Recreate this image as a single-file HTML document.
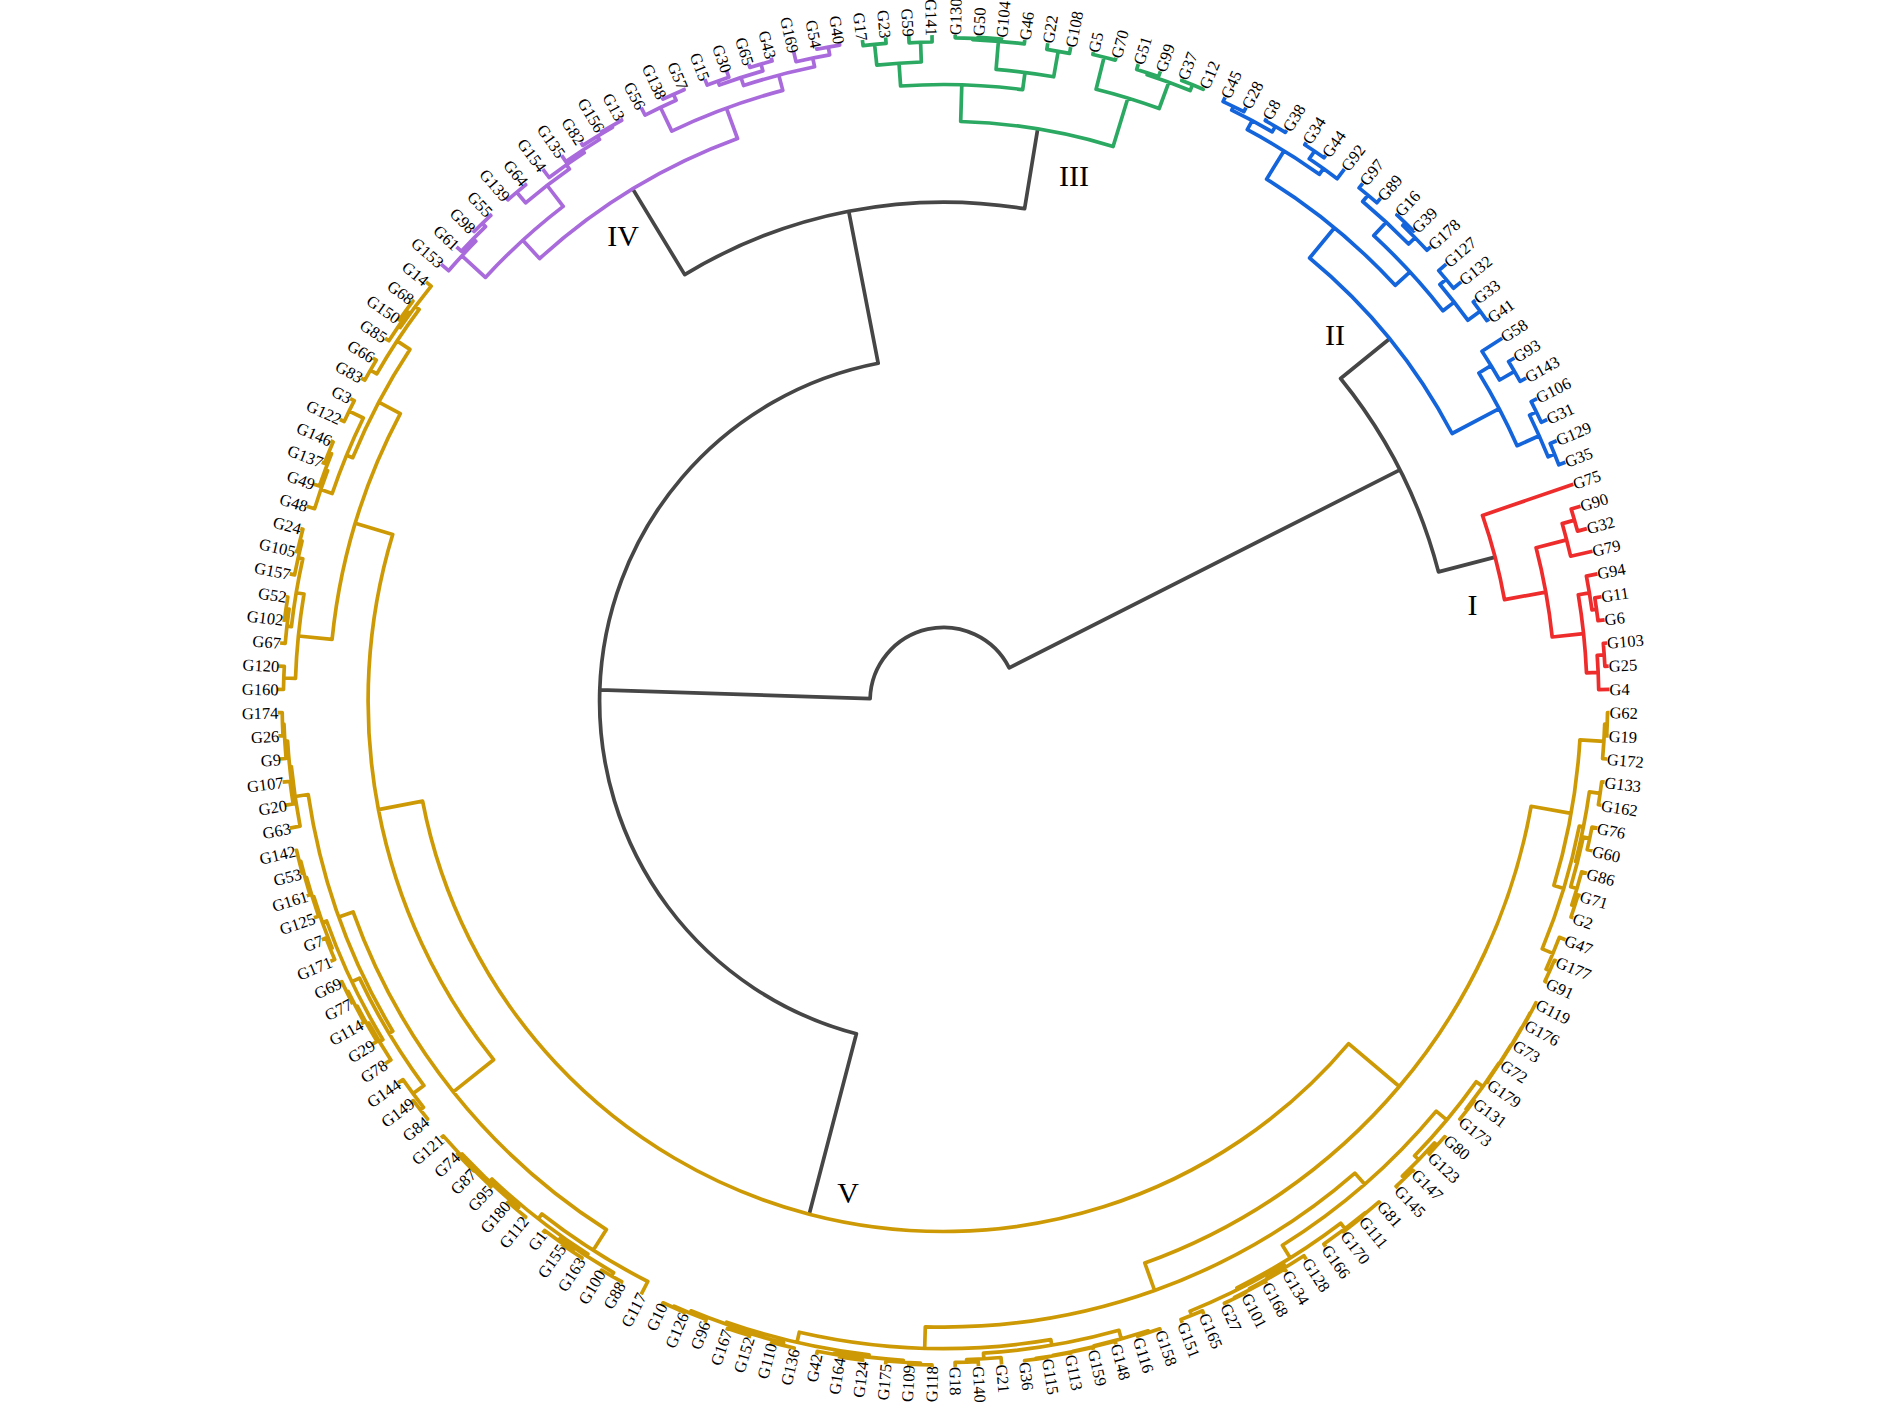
<!DOCTYPE html>
<html><head><meta charset="utf-8"><title>Circular dendrogram</title>
<style>html,body{margin:0;padding:0;background:#fff}body{width:1890px;height:1424px;overflow:hidden}svg{display:block}</style></head>
<body>
<svg width="1890" height="1424" viewBox="0 0 1890 1424">
<rect width="1890" height="1424" fill="#fff"/>
<path fill="none" stroke="#464646" stroke-width="3.7" stroke-linejoin="round" d="M1399.9 469.9L1009.2 667.8A73.5 73.5 0 0 0 870.1 698.6L599.8 689.8M1495.1 557.1L1438.5 571.9A511.5 511.5 0 0 0 1340.6 378.5L1389.6 338.7M848.7 211.2L878.2 363.3A344.0 344.0 0 0 0 856.4 1033.8L809.2 1214.2M1037.7 128.9L1024.6 208.7A498.9 498.9 0 0 0 684.7 274.6L632.7 188.9"/>
<path fill="none" stroke="#CD9A05" stroke-width="3.7" stroke-linejoin="round" d="M378.4 809.6L422.6 801.1A530.5 530.5 0 0 0 1348.6 1043.6L1399.3 1086.5M355.3 523.2L392.7 534.5A575.5 575.5 0 0 0 493.6 1059.7L453.3 1091.9M378.7 402.2L400.3 413.6A614.6 614.6 0 0 0 332.1 639.4L298.4 636.0M397.0 340.9L409.9 349.4A639.0 639.0 0 0 0 352.7 457.7L346.6 455.2M415.3 306.5L419.2 309.4A654.5 654.5 0 0 0 376.8 373.8L370.5 370.1M426.0 281.9L431.2 286.1A659.4 659.4 0 0 0 400.2 327.5L398.5 326.4M406.0 310.4L408.5 312.2A661.5 661.5 0 0 0 388.9 340.7L385.0 338.3M411.7 300.2L412.9 301.1A664.5 664.5 0 0 0 399.3 319.9L398.0 319.0M372.7 358.0L376.3 360.1A661.8 661.8 0 0 0 364.8 380.2L361.1 378.1M349.1 411.1L363.3 418.0A645.6 645.6 0 0 0 332.2 493.5L320.8 489.6M350.2 398.6L354.3 400.7A661.4 661.4 0 0 0 344.2 421.5L340.0 419.5M325.2 469.8L327.6 470.7A657.7 657.7 0 0 0 314.6 508.7L306.7 506.3M328.7 452.6L331.5 453.7A660.2 660.2 0 0 0 319.4 486.1L313.9 484.2M330.5 440.8L333.1 441.9A663.2 663.2 0 0 0 324.4 463.3L321.8 462.3M296.2 592.7L304.0 594.0A648.5 648.5 0 0 0 295.5 678.4L283.8 678.0M298.2 557.9L302.8 558.9A656.4 656.4 0 0 0 291.4 626.7L286.9 626.2M300.0 540.5L302.1 541.1A661.1 661.1 0 0 0 294.6 574.9L289.8 573.9M300.3 528.6L302.9 529.3A663.3 663.3 0 0 0 297.3 551.8L294.7 551.2M286.1 608.6L289.1 609.0A660.9 660.9 0 0 0 285.2 643.4L280.1 643.0M285.8 596.8L287.8 597.1A664.0 664.0 0 0 0 284.5 620.1L282.6 619.8M278.5 666.1L284.3 666.4A660.2 660.2 0 0 0 283.5 689.5L277.7 689.4M338.8 917.0L353.1 911.9A627.0 627.0 0 0 0 606.4 1229.6L593.2 1250.3M295.1 796.5L308.2 794.5A642.2 642.2 0 0 0 392.8 1031.2L389.1 1033.4M289.7 766.8L291.4 766.7A655.5 655.5 0 0 0 300.1 826.1L289.8 828.1M284.8 741.3L287.6 741.1A657.2 657.2 0 0 0 292.8 792.5L291.5 792.6M282.5 724.1L284.0 724.0A660.0 660.0 0 0 0 286.1 758.5L280.1 759.0M277.7 712.6L282.2 712.5A661.5 661.5 0 0 0 283.0 735.6L278.5 735.9M282.6 782.2L290.0 781.3A658.5 658.5 0 0 0 293.2 804.0L285.8 805.2M351.8 981.7L359.5 978.1A646.5 646.5 0 0 0 423.9 1085.6L413.1 1093.6M322.4 922.5L326.6 921.0A655.0 655.0 0 0 0 382.9 1039.6L379.5 1041.6M312.3 897.0L313.8 896.6A659.5 659.5 0 0 0 332.1 948.1L330.3 948.8M305.2 878.0L306.6 877.6A661.0 661.0 0 0 0 318.6 916.2L313.9 917.8M299.3 861.6L300.8 861.3A662.5 662.5 0 0 0 310.0 894.7L306.7 895.7M294.7 850.8L296.6 850.4A664.0 664.0 0 0 0 302.2 872.9L300.3 873.4M321.8 939.7L326.0 938.1A661.5 661.5 0 0 0 334.7 959.5L330.5 961.2M366.9 1024.0L368.6 1023.0A659.0 659.0 0 0 0 390.9 1059.9L385.0 1063.7M356.0 1006.9L357.3 1006.2A661.0 661.0 0 0 0 377.0 1041.4L372.7 1044.0M346.8 992.1L348.1 991.4A662.5 662.5 0 0 0 364.2 1022.2L361.1 1023.9M340.0 982.5L341.8 981.6A664.0 664.0 0 0 0 352.0 1002.4L350.2 1003.4M398.0 1083.0L403.0 1079.6A660.0 660.0 0 0 0 423.5 1107.3L420.4 1109.8M411.7 1101.8L413.3 1100.6A664.0 664.0 0 0 0 427.6 1118.9L426.0 1120.1M538.2 1218.8L541.9 1214.0A651.5 651.5 0 0 0 647.8 1281.5L641.2 1294.4M489.6 1181.5L492.0 1179.0A657.6 657.6 0 0 0 587.9 1254.1L586.6 1256.1M460.8 1155.2L462.1 1153.9A661.0 661.0 0 0 0 518.7 1207.4L516.8 1209.7M441.0 1137.9L443.3 1135.9A662.9 662.9 0 0 0 479.0 1173.8L478.4 1174.4M465.6 1162.6L466.2 1162.0A663.7 663.7 0 0 0 491.0 1186.4L489.4 1188.1M456.5 1155.2L457.6 1154.2A664.5 664.5 0 0 0 473.7 1170.9L472.7 1171.9M506.7 1203.6L508.0 1202.1A664.0 664.0 0 0 0 525.7 1217.0L524.5 1218.6M558.6 1240.8L560.3 1238.3A660.0 660.0 0 0 0 613.6 1272.6L611.6 1276.0M542.8 1232.9L544.6 1230.5A663.0 663.0 0 0 0 572.9 1250.7L572.3 1251.5M561.6 1246.6L562.7 1244.9A664.0 664.0 0 0 0 582.0 1257.9L580.9 1259.6M600.6 1271.9L601.6 1270.2A664.0 664.0 0 0 0 621.7 1281.7L620.7 1283.5M1154.6 1290.5L1144.8 1263.0A596.9 596.9 0 0 0 1531.1 806.3L1571.1 813.4M924.7 1348.2L925.3 1326.8A626.1 626.1 0 0 0 1354.9 1173.1L1364.7 1184.3M797.0 1342.5L799.3 1332.2A647.5 647.5 0 0 0 1050.8 1339.6L1051.8 1345.3M726.0 1324.1L726.7 1322.2A658.0 658.0 0 0 0 869.1 1354.8L868.8 1357.3M690.1 1313.1L691.0 1310.8A660.0 660.0 0 0 0 761.7 1335.4L761.3 1336.9M673.5 1307.6L674.1 1306.2A662.5 662.5 0 0 0 706.2 1319.5L704.9 1322.8M662.1 1304.6L663.0 1302.8A664.0 664.0 0 0 0 684.2 1312.2L683.4 1314.1M738.6 1332.0L739.2 1330.1A661.5 661.5 0 0 0 783.6 1342.9L783.0 1345.3M726.8 1330.7L727.6 1328.4A663.5 663.5 0 0 0 749.6 1335.5L748.9 1337.9M771.2 1344.3L771.7 1342.4A664.0 664.0 0 0 0 794.2 1348.0L793.8 1349.9M834.3 1354.4L834.6 1352.4A660.5 660.5 0 0 0 903.3 1360.3L903.2 1362.3M816.5 1354.8L817.2 1351.3A662.5 662.5 0 0 0 851.4 1357.1L851.2 1358.5M839.4 1358.8L839.7 1356.8A664.0 664.0 0 0 0 862.7 1360.1L862.4 1362.0M885.6 1364.5L885.9 1361.0A662.5 662.5 0 0 0 920.5 1363.1L920.4 1364.6M908.7 1366.1L908.8 1364.1A664.0 664.0 0 0 0 932.0 1364.9L932.0 1366.9M983.8 1358.8L983.5 1353.1A653.3 653.3 0 0 0 1118.9 1330.3L1121.3 1338.9M966.7 1362.1L966.6 1359.6A659.0 659.0 0 0 0 1001.0 1357.5L1001.6 1364.5M955.2 1366.9L955.1 1362.4A661.5 661.5 0 0 0 978.2 1361.6L978.5 1366.1M1094.1 1346.6L1094.0 1345.9A662.2 662.2 0 0 0 1148.2 1330.8L1148.8 1332.5M1073.0 1351.7L1072.9 1351.2A662.9 662.9 0 0 0 1115.2 1341.3L1116.0 1344.3M1053.2 1355.8L1053.1 1355.3A663.4 663.4 0 0 0 1092.8 1347.4L1093.4 1349.9M1036.1 1359.0L1036.0 1358.4A663.9 663.9 0 0 0 1070.3 1352.7L1070.7 1354.8M1024.8 1362.0L1024.6 1360.5A664.5 664.5 0 0 0 1047.6 1357.3L1047.8 1358.8M1138.3 1337.9L1137.7 1336.0A664.0 664.0 0 0 0 1159.8 1328.8L1160.4 1330.7M1290.3 1257.9L1282.4 1245.2A641.0 641.0 0 0 0 1436.2 1111.1L1446.7 1119.9M1237.8 1289.5L1236.9 1287.8A656.0 656.0 0 0 0 1340.7 1223.2L1344.9 1228.7M1191.8 1315.3L1190.1 1311.1A658.0 658.0 0 0 0 1283.7 1264.3L1285.5 1267.3M1182.3 1322.8L1181.0 1319.5A662.5 662.5 0 0 0 1202.5 1310.8L1203.8 1314.1M1267.3 1279.0L1266.8 1278.2A661.5 661.5 0 0 0 1303.9 1255.8L1306.3 1259.6M1250.0 1289.5L1249.5 1288.6A662.5 662.5 0 0 0 1284.8 1268.9L1286.6 1271.9M1234.9 1298.2L1234.5 1297.3A663.5 663.5 0 0 0 1265.3 1281.3L1266.5 1283.5M1225.1 1304.6L1224.4 1303.2A664.5 664.5 0 0 0 1245.3 1293.1L1246.0 1294.4M1325.6 1246.6L1323.9 1244.1A663.0 663.0 0 0 0 1365.3 1212.6L1365.8 1213.1M1352.7 1224.6L1352.2 1224.0A663.7 663.7 0 0 0 1379.0 1201.9L1380.5 1203.6M1344.4 1232.9L1343.5 1231.7A664.5 664.5 0 0 0 1361.8 1217.4L1362.7 1218.6M1418.7 1159.8L1414.6 1155.8A654.7 654.7 0 0 0 1476.2 1081.8L1482.9 1086.6M1404.5 1178.3L1402.4 1176.1A660.5 660.5 0 0 0 1434.4 1143.0L1437.0 1145.3M1397.8 1188.1L1396.1 1186.3A663.5 663.5 0 0 0 1412.8 1170.2L1414.5 1171.9M1430.7 1155.2L1429.2 1153.8A664.0 664.0 0 0 0 1444.7 1136.6L1446.2 1137.9M1467.1 1110.0L1466.1 1109.2A663.0 663.0 0 0 0 1498.8 1063.3L1499.3 1063.6M1461.2 1120.1L1459.9 1119.1A664.3 664.3 0 0 0 1474.1 1100.8L1475.5 1101.8M1489.2 1083.0L1487.1 1081.6A663.5 663.5 0 0 0 1510.8 1045.2L1511.2 1045.4M1502.2 1063.7L1500.4 1062.6A663.9 663.9 0 0 0 1521.4 1027.9L1521.8 1028.1M1514.5 1044.0L1513.0 1043.1A664.3 664.3 0 0 0 1530.1 1012.9L1530.5 1013.1M1526.1 1023.9L1525.0 1023.3A664.7 664.7 0 0 0 1535.9 1002.8L1537.0 1003.4M1563.8 888.4L1553.9 885.4A637.5 637.5 0 0 0 1579.9 739.9L1603.9 741.4M1552.9 953.4L1542.2 948.9A647.9 647.9 0 0 0 1579.3 826.0L1583.4 826.8M1549.7 970.9L1546.1 969.2A659.5 659.5 0 0 0 1559.3 937.3L1565.4 939.7M1547.2 982.5L1544.9 981.4A663.5 663.5 0 0 0 1554.4 960.3L1556.7 961.2M1577.5 862.0L1575.6 861.5A652.1 652.1 0 0 0 1589.4 791.8L1600.1 793.3M1576.9 888.6L1570.7 886.7A654.0 654.0 0 0 0 1583.3 837.0L1589.7 838.3M1574.6 906.0L1571.8 905.1A660.5 660.5 0 0 0 1581.6 871.9L1586.9 873.4M1573.3 917.8L1571.0 917.0A663.5 663.5 0 0 0 1578.1 895.0L1580.5 895.7M1592.5 850.8L1587.2 849.6A660.5 660.5 0 0 0 1592.0 827.0L1597.4 828.1M1601.4 805.2L1598.4 804.7A663.0 663.0 0 0 0 1601.7 781.8L1604.6 782.2M1607.1 759.0L1602.6 758.7A661.5 661.5 0 0 0 1604.7 724.1L1607.2 724.2M1608.7 735.9L1606.7 735.8A664.0 664.0 0 0 0 1607.5 712.6L1609.5 712.6"/>
<path fill="none" stroke="#A96BDB" stroke-width="3.7" stroke-linejoin="round" d="M726.4 108.2L737.5 138.5A599.1 599.1 0 0 0 539.6 258.6L522.8 240.2M778.8 75.1L782.8 90.4A631.4 631.4 0 0 0 671.8 131.1L660.5 107.5M812.8 58.1L814.6 66.8A647.2 647.2 0 0 0 743.6 85.5L741.0 77.6M828.3 47.1L829.7 54.9A656.1 656.1 0 0 0 796.0 61.7L793.8 52.1M839.4 43.2L839.7 45.2A664.0 664.0 0 0 0 816.9 49.2L816.5 47.2M761.0 64.1L762.9 70.9A655.5 655.5 0 0 0 719.4 85.0L718.0 81.1M771.2 57.7L772.1 61.0A662.6 662.6 0 0 0 749.9 67.4L748.9 64.1M726.8 71.3L728.8 77.2A659.7 659.7 0 0 0 707.2 85.1L704.9 79.2M673.5 94.4L676.1 100.3A657.6 657.6 0 0 0 645.1 115.1L641.2 107.6M683.4 87.9L684.1 89.7A664.0 664.0 0 0 0 663.0 99.2L662.1 97.4M547.2 185.5L563.2 206.4A624.0 624.0 0 0 0 485.4 277.4L462.0 255.8M566.5 164.9L569.4 169.1A650.3 650.3 0 0 0 525.6 202.8L516.7 192.3M582.5 150.3L584.2 152.8A655.5 655.5 0 0 0 549.1 177.5L542.8 169.1M597.4 136.1L599.5 139.5A658.5 658.5 0 0 0 565.9 161.6L561.6 155.4M611.6 126.0L612.4 127.3A662.5 662.5 0 0 0 582.8 145.4L580.9 142.4M620.7 118.5L621.7 120.3A664.0 664.0 0 0 0 601.6 131.8L600.6 130.1M524.5 183.4L525.7 184.9A664.1 664.1 0 0 0 507.9 199.8L506.7 198.4M473.2 238.8L475.8 241.3A655.9 655.9 0 0 0 448.6 270.7L441.0 264.1M482.3 223.4L485.5 226.6A659.5 659.5 0 0 0 461.3 251.2L456.5 246.8M489.4 213.9L490.8 215.4A664.0 664.0 0 0 0 474.1 231.5L472.7 230.1"/>
<path fill="none" stroke="#2BA962" stroke-width="3.7" stroke-linejoin="round" d="M1127.9 98.0L1113.1 146.5A579.8 579.8 0 0 0 960.7 121.5L961.8 84.8M1168.8 82.3L1159.2 108.5A630.5 630.5 0 0 0 1096.1 89.2L1104.1 57.2M1192.5 84.9L1190.2 90.5A658.4 658.4 0 0 0 1147.1 74.8L1147.7 72.8M1203.8 87.9L1203.2 89.3A664.5 664.5 0 0 0 1181.7 80.6L1182.3 79.2M1160.4 71.3L1158.6 76.5A660.5 660.5 0 0 0 1136.7 69.4L1138.3 64.1M1116.0 57.7L1115.3 60.1A663.5 663.5 0 0 0 1092.9 54.5L1093.4 52.1M1025.0 72.4L1022.7 89.6A616.5 616.5 0 0 0 900.6 86.0L899.0 63.2M1058.2 51.3L1053.7 76.8A633.9 633.9 0 0 0 996.1 69.3L998.4 41.3M1070.7 47.2L1069.5 53.4A659.8 659.8 0 0 0 1046.8 49.4L1047.8 43.2M1024.8 40.0L1024.3 43.9A662.0 662.0 0 0 0 972.5 39.6L972.5 38.3M990.0 38.1L989.9 39.3A663.3 663.3 0 0 0 955.2 37.8L955.2 35.1M1001.6 37.5L1001.5 39.0A664.5 664.5 0 0 0 978.4 37.4L978.5 35.9M920.6 42.3L921.3 62.0A639.4 639.4 0 0 0 876.8 65.1L874.6 44.4M932.0 35.1L932.1 42.0A659.1 659.1 0 0 0 909.1 42.8L908.7 35.9M885.6 37.5L886.1 43.3A660.2 660.2 0 0 0 863.1 45.7L862.4 40.0"/>
<path fill="none" stroke="#1464DB" stroke-width="3.7" stroke-linejoin="round" d="M1499.2 408.7L1452.1 433.5A574.6 574.6 0 0 0 1309.6 258.0L1334.5 227.8M1539.2 435.8L1517.1 445.7A627.8 627.8 0 0 0 1478.9 373.0L1491.0 365.6M1554.6 454.1L1548.1 456.8A652.0 652.0 0 0 0 1529.6 415.2L1536.4 411.9M1565.4 462.3L1558.8 464.8A659.0 659.0 0 0 0 1550.2 443.5L1556.7 440.8M1547.2 419.5L1541.3 422.3A659.5 659.5 0 0 0 1531.2 401.6L1537.0 398.6M1514.5 371.4L1499.6 380.0A642.0 642.0 0 0 0 1482.0 351.3L1502.2 338.3M1526.1 378.1L1520.1 381.4A659.2 659.2 0 0 0 1508.6 361.5L1514.5 358.0M1410.0 271.8L1395.2 285.3A613.8 613.8 0 0 0 1266.6 179.1L1284.1 150.8M1454.2 302.1L1443.0 310.8A633.8 633.8 0 0 0 1373.8 235.6L1386.2 222.2M1480.1 311.2L1467.8 320.2A647.9 647.9 0 0 0 1439.9 284.5L1446.1 279.3M1489.2 319.0L1486.9 320.6A663.2 663.2 0 0 0 1473.3 301.9L1475.5 300.2M1461.2 281.9L1453.4 288.2A656.0 656.0 0 0 0 1438.7 270.6L1446.2 264.1M1415.1 237.7L1408.6 244.0A652.0 652.0 0 0 0 1362.7 201.5L1368.0 195.2M1430.7 246.8L1427.0 250.2A661.0 661.0 0 0 0 1402.8 225.5L1405.3 222.9M1414.5 230.1L1413.6 231.0A664.7 664.7 0 0 0 1396.9 214.9L1397.8 213.9M1380.5 198.4L1376.8 202.7A660.3 660.3 0 0 0 1359.1 187.9L1362.7 183.4M1323.4 168.6L1319.3 174.3A647.0 647.0 0 0 0 1247.3 129.7L1252.2 120.6M1344.4 169.1L1337.2 178.7A654.0 654.0 0 0 0 1309.3 158.8L1314.5 151.2M1325.6 155.4L1324.0 157.7A663.2 663.2 0 0 0 1304.8 144.8L1306.3 142.4M1275.4 126.4L1272.2 131.8A657.3 657.3 0 0 0 1231.7 110.2L1233.5 106.5M1286.6 130.1L1285.3 132.3A663.5 663.5 0 0 0 1265.3 120.7L1266.5 118.5M1246.0 107.6L1243.9 111.7A661.4 661.4 0 0 0 1223.1 101.6L1225.1 97.4"/>
<path fill="none" stroke="#EE2C2C" stroke-width="3.7" stroke-linejoin="round" d="M1545.8 592.1L1504.5 599.6A570.0 570.0 0 0 0 1482.5 515.4L1573.3 484.2M1583.6 633.7L1552.2 637.0A612.0 612.0 0 0 0 1536.1 547.8L1566.6 539.9M1598.2 672.4L1586.5 672.9A643.5 643.5 0 0 0 1578.3 594.8L1589.4 592.9M1609.5 689.4L1598.7 689.6A655.2 655.2 0 0 0 1597.2 655.3L1604.2 654.8M1608.7 666.1L1604.9 666.3A662.2 662.2 0 0 0 1603.3 643.3L1607.1 643.0M1596.5 609.2L1592.0 609.9A654.8 654.8 0 0 0 1586.4 576.1L1597.4 573.9M1604.6 619.8L1598.0 620.7A659.3 659.3 0 0 0 1594.8 597.9L1601.4 596.8M1592.5 551.2L1570.6 556.2A643.5 643.5 0 0 0 1562.2 523.6L1574.5 520.1M1586.9 528.6L1577.5 531.1A656.3 656.3 0 0 0 1571.2 509.1L1580.5 506.3"/>
<g font-family="'Liberation Serif', serif" font-size="16.5" fill="#000"><text transform="translate(1609.5 689.4) rotate(-1.0)" y="5.75">G4</text><text transform="translate(1608.7 666.1) rotate(-3.0)" y="5.75">G25</text><text transform="translate(1607.1 643.0) rotate(-5.0)" y="5.75">G103</text><text transform="translate(1604.6 619.8) rotate(-7.0)" y="5.75">G6</text><text transform="translate(1601.4 596.8) rotate(-9.0)" y="5.75">G11</text><text transform="translate(1597.4 573.9) rotate(-11.0)" y="5.75">G94</text><text transform="translate(1592.5 551.2) rotate(-13.0)" y="5.75">G79</text><text transform="translate(1586.9 528.6) rotate(-15.0)" y="5.75">G32</text><text transform="translate(1580.5 506.3) rotate(-17.0)" y="5.75">G90</text><text transform="translate(1573.3 484.2) rotate(-19.0)" y="5.75">G75</text><text transform="translate(1565.4 462.3) rotate(-21.0)" y="5.75">G35</text><text transform="translate(1556.7 440.8) rotate(-23.0)" y="5.75">G129</text><text transform="translate(1547.2 419.5) rotate(-25.0)" y="5.75">G31</text><text transform="translate(1537.0 398.6) rotate(-27.0)" y="5.75">G106</text><text transform="translate(1526.1 378.1) rotate(-29.0)" y="5.75">G143</text><text transform="translate(1514.5 358.0) rotate(-31.0)" y="5.75">G93</text><text transform="translate(1502.2 338.3) rotate(-33.0)" y="5.75">G58</text><text transform="translate(1489.2 319.0) rotate(-35.0)" y="5.75">G41</text><text transform="translate(1475.5 300.2) rotate(-37.0)" y="5.75">G33</text><text transform="translate(1461.2 281.9) rotate(-39.0)" y="5.75">G132</text><text transform="translate(1446.2 264.1) rotate(-41.0)" y="5.75">G127</text><text transform="translate(1430.7 246.8) rotate(-43.0)" y="5.75">G178</text><text transform="translate(1414.5 230.1) rotate(-45.0)" y="5.75">G39</text><text transform="translate(1397.8 213.9) rotate(-47.0)" y="5.75">G16</text><text transform="translate(1380.5 198.4) rotate(-49.0)" y="5.75">G89</text><text transform="translate(1362.7 183.4) rotate(-51.0)" y="5.75">G97</text><text transform="translate(1344.4 169.1) rotate(-53.0)" y="5.75">G92</text><text transform="translate(1325.6 155.4) rotate(-55.0)" y="5.75">G44</text><text transform="translate(1306.3 142.4) rotate(-57.0)" y="5.75">G34</text><text transform="translate(1286.6 130.1) rotate(-59.0)" y="5.75">G38</text><text transform="translate(1266.5 118.5) rotate(-61.0)" y="5.75">G8</text><text transform="translate(1246.0 107.6) rotate(-63.0)" y="5.75">G28</text><text transform="translate(1225.1 97.4) rotate(-65.0)" y="5.75">G45</text><text transform="translate(1203.8 87.9) rotate(-67.0)" y="5.75">G12</text><text transform="translate(1182.3 79.2) rotate(-69.0)" y="5.75">G37</text><text transform="translate(1160.4 71.3) rotate(-71.0)" y="5.75">G99</text><text transform="translate(1138.3 64.1) rotate(-73.0)" y="5.75">G51</text><text transform="translate(1116.0 57.7) rotate(-75.0)" y="5.75">G70</text><text transform="translate(1093.4 52.1) rotate(-77.0)" y="5.75">G5</text><text transform="translate(1070.7 47.2) rotate(-79.0)" y="5.75">G108</text><text transform="translate(1047.8 43.2) rotate(-81.0)" y="5.75">G22</text><text transform="translate(1024.8 40.0) rotate(-83.0)" y="5.75">G46</text><text transform="translate(1001.6 37.5) rotate(-85.0)" y="5.75">G104</text><text transform="translate(978.5 35.9) rotate(-87.0)" y="5.75">G50</text><text transform="translate(955.2 35.1) rotate(-89.0)" y="5.75">G130</text><text transform="translate(932.0 35.9) rotate(89.0)" text-anchor="end" y="6.0">G141</text><text transform="translate(908.8 36.7) rotate(87.0)" text-anchor="end" y="6.0">G59</text><text transform="translate(885.6 38.3) rotate(85.0)" text-anchor="end" y="6.0">G23</text><text transform="translate(862.5 40.8) rotate(83.0)" text-anchor="end" y="6.0">G17</text><text transform="translate(839.5 44.0) rotate(81.0)" text-anchor="end" y="6.0">G40</text><text transform="translate(816.7 48.0) rotate(79.0)" text-anchor="end" y="6.0">G54</text><text transform="translate(794.0 52.8) rotate(77.0)" text-anchor="end" y="6.0">G169</text><text transform="translate(771.4 58.5) rotate(75.0)" text-anchor="end" y="6.0">G43</text><text transform="translate(749.1 64.9) rotate(73.0)" text-anchor="end" y="6.0">G65</text><text transform="translate(727.0 72.0) rotate(71.0)" text-anchor="end" y="6.0">G30</text><text transform="translate(705.2 80.0) rotate(69.0)" text-anchor="end" y="6.0">G15</text><text transform="translate(683.7 88.7) rotate(67.0)" text-anchor="end" y="6.0">G57</text><text transform="translate(662.5 98.1) rotate(65.0)" text-anchor="end" y="6.0">G138</text><text transform="translate(641.6 108.3) rotate(63.0)" text-anchor="end" y="6.0">G56</text><text transform="translate(621.1 119.2) rotate(61.0)" text-anchor="end" y="6.0">G13</text><text transform="translate(601.0 130.8) rotate(59.0)" text-anchor="end" y="6.0">G156</text><text transform="translate(581.3 143.1) rotate(57.0)" text-anchor="end" y="6.0">G82</text><text transform="translate(562.1 156.1) rotate(55.0)" text-anchor="end" y="6.0">G135</text><text transform="translate(543.3 169.7) rotate(53.0)" text-anchor="end" y="6.0">G154</text><text transform="translate(525.0 184.0) rotate(51.0)" text-anchor="end" y="6.0">G64</text><text transform="translate(507.2 199.0) rotate(49.0)" text-anchor="end" y="6.0">G139</text><text transform="translate(489.9 214.5) rotate(47.0)" text-anchor="end" y="6.0">G55</text><text transform="translate(473.2 230.6) rotate(45.0)" text-anchor="end" y="6.0">G98</text><text transform="translate(457.1 247.3) rotate(43.0)" text-anchor="end" y="6.0">G61</text><text transform="translate(441.6 264.6) rotate(41.0)" text-anchor="end" y="6.0">G153</text><text transform="translate(426.6 282.4) rotate(39.0)" text-anchor="end" y="6.0">G14</text><text transform="translate(412.3 300.7) rotate(37.0)" text-anchor="end" y="6.0">G68</text><text transform="translate(398.7 319.5) rotate(35.0)" text-anchor="end" y="6.0">G150</text><text transform="translate(385.7 338.7) rotate(33.0)" text-anchor="end" y="6.0">G85</text><text transform="translate(373.4 358.4) rotate(31.0)" text-anchor="end" y="6.0">G66</text><text transform="translate(361.8 378.5) rotate(29.0)" text-anchor="end" y="6.0">G83</text><text transform="translate(350.9 399.0) rotate(27.0)" text-anchor="end" y="6.0">G3</text><text transform="translate(340.7 419.9) rotate(25.0)" text-anchor="end" y="6.0">G122</text><text transform="translate(331.3 441.1) rotate(23.0)" text-anchor="end" y="6.0">G146</text><text transform="translate(322.6 462.6) rotate(21.0)" text-anchor="end" y="6.0">G137</text><text transform="translate(314.6 484.4) rotate(19.0)" text-anchor="end" y="6.0">G49</text><text transform="translate(307.5 506.5) rotate(17.0)" text-anchor="end" y="6.0">G48</text><text transform="translate(301.1 528.8) rotate(15.0)" text-anchor="end" y="6.0">G24</text><text transform="translate(295.4 551.4) rotate(13.0)" text-anchor="end" y="6.0">G105</text><text transform="translate(290.6 574.1) rotate(11.0)" text-anchor="end" y="6.0">G157</text><text transform="translate(286.6 596.9) rotate(9.0)" text-anchor="end" y="6.0">G52</text><text transform="translate(283.4 619.9) rotate(7.0)" text-anchor="end" y="6.0">G102</text><text transform="translate(280.9 643.0) rotate(5.0)" text-anchor="end" y="6.0">G67</text><text transform="translate(279.3 666.2) rotate(3.0)" text-anchor="end" y="6.0">G120</text><text transform="translate(278.5 689.4) rotate(1.0)" text-anchor="end" y="6.0">G160</text><text transform="translate(278.5 712.6) rotate(-1.0)" text-anchor="end" y="6.0">G174</text><text transform="translate(279.3 735.8) rotate(-3.0)" text-anchor="end" y="6.0">G26</text><text transform="translate(280.9 759.0) rotate(-5.0)" text-anchor="end" y="6.0">G9</text><text transform="translate(283.4 782.1) rotate(-7.0)" text-anchor="end" y="6.0">G107</text><text transform="translate(286.6 805.1) rotate(-9.0)" text-anchor="end" y="6.0">G20</text><text transform="translate(290.6 827.9) rotate(-11.0)" text-anchor="end" y="6.0">G63</text><text transform="translate(295.4 850.6) rotate(-13.0)" text-anchor="end" y="6.0">G142</text><text transform="translate(301.1 873.2) rotate(-15.0)" text-anchor="end" y="6.0">G53</text><text transform="translate(307.5 895.5) rotate(-17.0)" text-anchor="end" y="6.0">G161</text><text transform="translate(314.6 917.6) rotate(-19.0)" text-anchor="end" y="6.0">G125</text><text transform="translate(322.6 939.4) rotate(-21.0)" text-anchor="end" y="6.0">G7</text><text transform="translate(331.3 960.9) rotate(-23.0)" text-anchor="end" y="6.0">G171</text><text transform="translate(340.7 982.1) rotate(-25.0)" text-anchor="end" y="6.0">G69</text><text transform="translate(350.9 1003.0) rotate(-27.0)" text-anchor="end" y="6.0">G77</text><text transform="translate(361.8 1023.5) rotate(-29.0)" text-anchor="end" y="6.0">G114</text><text transform="translate(373.4 1043.6) rotate(-31.0)" text-anchor="end" y="6.0">G29</text><text transform="translate(385.7 1063.3) rotate(-33.0)" text-anchor="end" y="6.0">G78</text><text transform="translate(398.7 1082.5) rotate(-35.0)" text-anchor="end" y="6.0">G144</text><text transform="translate(412.3 1101.3) rotate(-37.0)" text-anchor="end" y="6.0">G149</text><text transform="translate(426.6 1119.6) rotate(-39.0)" text-anchor="end" y="6.0">G84</text><text transform="translate(441.6 1137.4) rotate(-41.0)" text-anchor="end" y="6.0">G121</text><text transform="translate(457.1 1154.7) rotate(-43.0)" text-anchor="end" y="6.0">G74</text><text transform="translate(473.2 1171.4) rotate(-45.0)" text-anchor="end" y="6.0">G87</text><text transform="translate(489.9 1187.5) rotate(-47.0)" text-anchor="end" y="6.0">G95</text><text transform="translate(507.2 1203.0) rotate(-49.0)" text-anchor="end" y="6.0">G180</text><text transform="translate(525.0 1218.0) rotate(-51.0)" text-anchor="end" y="6.0">G112</text><text transform="translate(543.3 1232.3) rotate(-53.0)" text-anchor="end" y="6.0">G1</text><text transform="translate(562.1 1245.9) rotate(-55.0)" text-anchor="end" y="6.0">G155</text><text transform="translate(581.3 1258.9) rotate(-57.0)" text-anchor="end" y="6.0">G163</text><text transform="translate(601.0 1271.2) rotate(-59.0)" text-anchor="end" y="6.0">G100</text><text transform="translate(621.1 1282.8) rotate(-61.0)" text-anchor="end" y="6.0">G88</text><text transform="translate(641.6 1293.7) rotate(-63.0)" text-anchor="end" y="6.0">G117</text><text transform="translate(662.5 1303.9) rotate(-65.0)" text-anchor="end" y="6.0">G10</text><text transform="translate(683.7 1313.3) rotate(-67.0)" text-anchor="end" y="6.0">G126</text><text transform="translate(705.2 1322.0) rotate(-69.0)" text-anchor="end" y="6.0">G96</text><text transform="translate(727.0 1330.0) rotate(-71.0)" text-anchor="end" y="6.0">G167</text><text transform="translate(749.1 1337.1) rotate(-73.0)" text-anchor="end" y="6.0">G152</text><text transform="translate(771.4 1343.5) rotate(-75.0)" text-anchor="end" y="6.0">G110</text><text transform="translate(794.0 1349.2) rotate(-77.0)" text-anchor="end" y="6.0">G136</text><text transform="translate(816.7 1354.0) rotate(-79.0)" text-anchor="end" y="6.0">G42</text><text transform="translate(839.5 1358.0) rotate(-81.0)" text-anchor="end" y="6.0">G164</text><text transform="translate(862.5 1361.2) rotate(-83.0)" text-anchor="end" y="6.0">G124</text><text transform="translate(885.6 1363.7) rotate(-85.0)" text-anchor="end" y="6.0">G175</text><text transform="translate(908.8 1365.3) rotate(-87.0)" text-anchor="end" y="6.0">G109</text><text transform="translate(932.0 1366.1) rotate(-89.0)" text-anchor="end" y="6.0">G118</text><text transform="translate(955.2 1366.9) rotate(-271.0)" y="5.75">G18</text><text transform="translate(978.5 1366.1) rotate(-273.0)" y="5.75">G140</text><text transform="translate(1001.6 1364.5) rotate(-275.0)" y="5.75">G21</text><text transform="translate(1024.8 1362.0) rotate(-277.0)" y="5.75">G36</text><text transform="translate(1047.8 1358.8) rotate(-279.0)" y="5.75">G115</text><text transform="translate(1070.7 1354.8) rotate(-281.0)" y="5.75">G113</text><text transform="translate(1093.4 1349.9) rotate(-283.0)" y="5.75">G159</text><text transform="translate(1116.0 1344.3) rotate(-285.0)" y="5.75">G148</text><text transform="translate(1138.3 1337.9) rotate(-287.0)" y="5.75">G116</text><text transform="translate(1160.4 1330.7) rotate(-289.0)" y="5.75">G158</text><text transform="translate(1182.3 1322.8) rotate(-291.0)" y="5.75">G151</text><text transform="translate(1203.8 1314.1) rotate(-293.0)" y="5.75">G165</text><text transform="translate(1225.1 1304.6) rotate(-295.0)" y="5.75">G27</text><text transform="translate(1246.0 1294.4) rotate(-297.0)" y="5.75">G101</text><text transform="translate(1266.5 1283.5) rotate(-299.0)" y="5.75">G168</text><text transform="translate(1286.6 1271.9) rotate(-301.0)" y="5.75">G134</text><text transform="translate(1306.3 1259.6) rotate(-303.0)" y="5.75">G128</text><text transform="translate(1325.6 1246.6) rotate(-305.0)" y="5.75">G166</text><text transform="translate(1344.4 1232.9) rotate(-307.0)" y="5.75">G170</text><text transform="translate(1362.7 1218.6) rotate(-309.0)" y="5.75">G111</text><text transform="translate(1380.5 1203.6) rotate(-311.0)" y="5.75">G81</text><text transform="translate(1397.8 1188.1) rotate(-313.0)" y="5.75">G145</text><text transform="translate(1414.5 1171.9) rotate(-315.0)" y="5.75">G147</text><text transform="translate(1430.7 1155.2) rotate(-317.0)" y="5.75">G123</text><text transform="translate(1446.2 1137.9) rotate(-319.0)" y="5.75">G80</text><text transform="translate(1461.2 1120.1) rotate(-321.0)" y="5.75">G173</text><text transform="translate(1475.5 1101.8) rotate(-323.0)" y="5.75">G131</text><text transform="translate(1489.2 1083.0) rotate(-325.0)" y="5.75">G179</text><text transform="translate(1502.2 1063.7) rotate(-327.0)" y="5.75">G72</text><text transform="translate(1514.5 1044.0) rotate(-329.0)" y="5.75">G73</text><text transform="translate(1526.1 1023.9) rotate(-331.0)" y="5.75">G176</text><text transform="translate(1537.0 1003.4) rotate(-333.0)" y="5.75">G119</text><text transform="translate(1547.2 982.5) rotate(-335.0)" y="5.75">G91</text><text transform="translate(1556.7 961.2) rotate(-337.0)" y="5.75">G177</text><text transform="translate(1565.4 939.7) rotate(-339.0)" y="5.75">G47</text><text transform="translate(1573.3 917.8) rotate(-341.0)" y="5.75">G2</text><text transform="translate(1580.5 895.7) rotate(-343.0)" y="5.75">G71</text><text transform="translate(1586.9 873.4) rotate(-345.0)" y="5.75">G86</text><text transform="translate(1592.5 850.8) rotate(-347.0)" y="5.75">G60</text><text transform="translate(1597.4 828.1) rotate(-349.0)" y="5.75">G76</text><text transform="translate(1601.4 805.2) rotate(-351.0)" y="5.75">G162</text><text transform="translate(1604.6 782.2) rotate(-353.0)" y="5.75">G133</text><text transform="translate(1607.1 759.0) rotate(-355.0)" y="5.75">G172</text><text transform="translate(1608.7 735.9) rotate(-357.0)" y="5.75">G19</text><text transform="translate(1609.5 712.6) rotate(-359.0)" y="5.75">G62</text></g>
<g font-family="'Liberation Serif', serif" font-size="30" fill="#000"><text x="1472.5" y="615.0" text-anchor="middle">I</text><text x="1335.0" y="344.5" text-anchor="middle">II</text><text x="1074.0" y="185.7" text-anchor="middle">III</text><text x="623.2" y="245.6" text-anchor="middle">IV</text><text x="848.2" y="1202.5" text-anchor="middle">V</text></g>
</svg>
</body></html>
